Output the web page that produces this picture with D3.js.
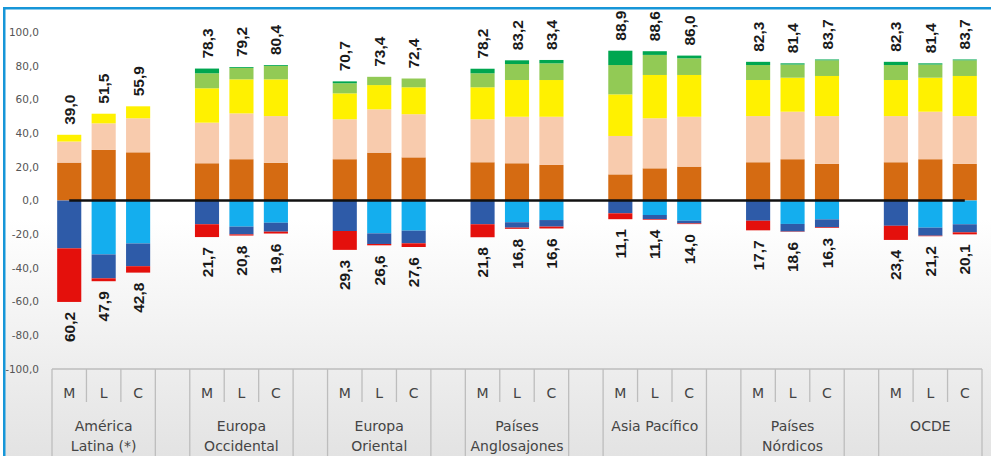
<!DOCTYPE html>
<html>
<head>
<meta charset="utf-8">
<script src="https://cdn.jsdelivr.net/npm/d3@7"></script>
<style>
  html, body { margin: 0; padding: 0; background: #fff; }
  svg { display: block; }
</style>
</head>
<body>
<svg id="chart" width="991" height="456"></svg>
<script>
// ---- Data ----
const groupLabels = [["América", "Latina (*)"], ["Europa", "Occidental"], ["Europa", "Oriental"],
  ["Países", "Anglosajones"], ["Asia Pacífico"], ["Países", "Nórdicos"], ["OCDE"]];
const subLabels = ["M", "L", "C"];
const yTicks = [-100, -80, -60, -40, -20, 0, 20, 40, 60, 80, 100];

// positive segments (bottom to top), order: per group M, L, C
const orange     = [22.5, 30.0, 28.6, 22.1, 24.5, 22.4, 24.5, 28.4, 25.6, 22.7, 22.1, 21.1, 15.5, 19.1, 20.1, 22.7, 24.5, 21.7, 22.7, 24.5, 21.7];
const peach      = [12.5, 15.8, 20.2, 24.1, 27.2, 27.7, 23.7, 25.7, 25.6, 25.5, 27.6, 28.6, 22.8, 29.7, 29.6, 27.4, 28.2, 28.4, 27.4, 28.2, 28.4];
const yellow     = [4.0, 5.7, 7.1, 20.4, 20.2, 21.8, 15.4, 14.4, 16.0, 19.0, 21.8, 21.8, 24.7, 25.7, 24.8, 21.4, 20.2, 23.8, 21.4, 20.2, 23.8];
const lightGreen = [0, 0, 0, 8.9, 6.8, 8.0, 6.0, 4.9, 5.2, 8.3, 9.5, 9.9, 17.4, 11.9, 9.9, 8.9, 7.8, 9.3, 8.9, 7.8, 9.3];
const darkGreen  = [0, 0, 0, 2.8, 0.5, 0.5, 1.1, 0, 0, 2.7, 2.2, 2.0, 8.5, 2.2, 1.6, 1.9, 0.7, 0.5, 1.9, 0.7, 0.5];
// negative segments (top to bottom, magnitudes)
const lightBlue  = [0, 32.0, 25.5, 0, 15.5, 13.2, 0, 19.5, 17.9, 0, 12.9, 11.6, 0, 8.6, 12.0, 0, 13.9, 11.2, 0, 16.1, 14.1];
const darkBlue   = [28.4, 14.2, 13.5, 14.1, 4.6, 5.3, 18.1, 6.3, 7.5, 14.1, 3.2, 3.9, 7.6, 2.4, 1.6, 12.0, 4.5, 4.7, 15.0, 4.8, 4.8];
const red        = [31.8, 1.7, 3.8, 7.6, 0.7, 1.1, 11.2, 0.8, 2.2, 7.7, 0.7, 1.1, 3.5, 0.4, 0.4, 5.7, 0.2, 0.4, 8.4, 0.3, 1.2];
// total labels
const posTotals  = [39.0, 51.5, 55.9, 78.3, 79.2, 80.4, 70.7, 73.4, 72.4, 78.2, 83.2, 83.4, 88.9, 88.6, 86.0, 82.3, 81.4, 83.7, 82.3, 81.4, 83.7];
const negTotals  = [60.2, 47.9, 42.8, 21.7, 20.8, 19.6, 29.3, 26.6, 27.6, 21.8, 16.8, 16.6, 11.1, 11.4, 14.0, 17.7, 18.6, 16.3, 23.4, 21.2, 20.1];

// ---- Build table ----
const keys = ["orange", "peach", "yellow", "lightGreen", "darkGreen", "lightBlue", "darkBlue", "red"];
const colors = {
  orange: "#D56B12", peach: "#F8CBAD", yellow: "#FFF100", lightGreen: "#92CA55", darkGreen: "#00A650",
  lightBlue: "#14AEEE", darkBlue: "#2E5BA8", red: "#E4100C"
};
const slots = [];   // all x slots including gaps
const rows = [];
groupLabels.forEach((g, gi) => {
  subLabels.forEach((s, si) => {
    const i = gi * 3 + si;
    const id = gi + "-" + s;
    slots.push(id);
    rows.push({
      id, sub: s, group: gi, idx: i,
      orange: orange[i], peach: peach[i], yellow: yellow[i], lightGreen: lightGreen[i], darkGreen: darkGreen[i],
      lightBlue: -lightBlue[i], darkBlue: -darkBlue[i], red: -red[i],
      pos: posTotals[i], neg: negTotals[i]
    });
  });
  if (gi < groupLabels.length - 1) slots.push(gi + "-gap");
});

const stacked = d3.stack().keys(keys).offset(d3.stackOffsetDiverging)(rows);

// ---- Scales ----
const svg = d3.select("#chart");
const W = 991, H = 456;
const x = d3.scaleBand().domain(slots).range([52, 982]).paddingInner(0).paddingOuter(0);
const y = d3.scaleLinear().domain([-100, 100]).range([369, 32]);
const barW = x.bandwidth() * 0.7;

// background
const defs = svg.append("defs");
const grad = defs.append("linearGradient").attr("id", "bg").attr("x1", 0).attr("y1", 0).attr("x2", 0).attr("y2", 1);
grad.append("stop").attr("offset", "0%").attr("stop-color", "#ffffff");
grad.append("stop").attr("offset", "48%").attr("stop-color", "#ffffff");
grad.append("stop").attr("offset", "100%").attr("stop-color", "#e3e3e3");
svg.append("rect").attr("width", W).attr("height", H).attr("fill", "url(#bg)");

// bars
svg.append("g").selectAll("g").data(stacked).join("g")
  .attr("fill", d => colors[d.key])
  .selectAll("rect").data(d => d).join("rect")
  .attr("x", d => x(d.data.id) + (x.bandwidth() - barW) / 2)
  .attr("y", d => y(Math.max(d[0], d[1])))
  .attr("width", barW)
  .attr("height", d => Math.abs(y(d[0]) - y(d[1])));

// zero line from first to last category center
const firstC = x(slots[0]) + x.bandwidth() / 2;
const lastC = x(slots[slots.length - 1]) + x.bandwidth() / 2;
svg.append("line").attr("x1", firstC).attr("x2", lastC).attr("y1", y(0)).attr("y2", y(0))
  .attr("stroke", "#111").attr("stroke-width", 2.5);

// value labels
const fmt = v => v.toFixed(1).replace(".", ",");
const lab = svg.append("g").attr("font-family", "'Liberation Sans', Arial, sans-serif")
  .attr("font-weight", "bold").attr("font-size", 15.5).attr("fill", "#1a1a1a");
lab.selectAll("text.pos").data(rows).join("text").attr("class", "pos")
  .attr("transform", d => `translate(${x(d.id) + x.bandwidth() / 2},${y(d.pos) - 10}) rotate(-90)`)
  .attr("dy", "0.36em").attr("text-anchor", "start").text(d => fmt(d.pos));
lab.selectAll("text.neg").data(rows).join("text").attr("class", "neg")
  .attr("transform", d => `translate(${x(d.id) + x.bandwidth() / 2},${y(-d.neg) + 10}) rotate(-90)`)
  .attr("dy", "0.36em").attr("text-anchor", "end").text(d => fmt(d.neg));

// y axis
const yAxis = svg.append("g").attr("transform", "translate(40,0)")
  .call(d3.axisLeft(y).tickValues(yTicks).tickSize(0).tickPadding(1).tickFormat(fmt));
yAxis.select(".domain").remove();
yAxis.selectAll("text").attr("font-family", "'DejaVu Sans', sans-serif").attr("font-size", 10.5).attr("fill", "#555");

// category axis box
const axG = svg.append("g").attr("stroke", "#bdbdbd").attr("stroke-width", 1.3);
const yTop = y(-100);
axG.append("line").attr("x1", 52).attr("x2", 982).attr("y1", yTop).attr("y2", yTop);
slots.forEach((s, i) => {
  const xl = x(s);
  const prev = i > 0 ? slots[i - 1] : null;
  const full = i === 0 || s.endsWith("gap") || (prev && prev.endsWith("gap"));
  axG.append("line").attr("x1", xl).attr("x2", xl).attr("y1", yTop).attr("y2", full ? H : yTop + 33);
});
axG.append("line").attr("x1", 982).attr("x2", 982).attr("y1", yTop).attr("y2", H);

const tg = svg.append("g").attr("font-family", "'DejaVu Sans', sans-serif").attr("font-size", 14).attr("fill", "#444")
  .attr("text-anchor", "middle");
tg.selectAll("text.sub").data(rows).join("text").attr("class", "sub")
  .attr("x", d => x(d.id) + x.bandwidth() / 2).attr("y", 398).text(d => d.sub);
groupLabels.forEach((g, gi) => {
  const cx = x(gi + "-L") + x.bandwidth() / 2;
  g.forEach((line, li) => {
    tg.append("text").attr("x", cx).attr("y", 431 + li * 20).text(line);
  });
});

// frame
svg.append("rect").attr("x", 0).attr("y", 0).attr("width", W).attr("height", 7).attr("fill", "#fff");
svg.append("rect").attr("x", 0).attr("y", 7).attr("width", W).attr("height", 2.5).attr("fill", "#1696D8");
svg.append("rect").attr("x", 0).attr("y", 0).attr("width", 3).attr("height", H).attr("fill", "#fff");
svg.append("rect").attr("x", 3).attr("y", 7).attr("width", 2.5).attr("height", H).attr("fill", "#1696D8");
</script>
</body>
</html>
